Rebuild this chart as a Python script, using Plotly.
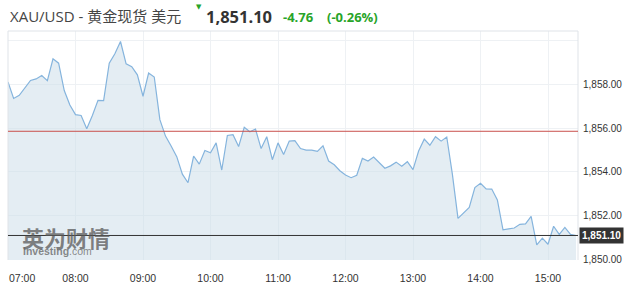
import pandas as pd
import plotly.graph_objects as go

# ---- data (5-minute closes) ----
start_time = "2023-06-16 07:00"
prices = [
    1858.11, 1857.36, 1857.50, 1857.86, 1858.18, 1858.25, 1858.41, 1858.17, 1859.17, 1858.97,
    1857.72, 1857.06, 1856.62, 1856.58, 1855.98, 1856.58, 1857.27, 1857.26, 1858.97, 1859.40,
    1859.96, 1858.94, 1858.81, 1858.44, 1857.46, 1858.52, 1858.34, 1856.39, 1855.64, 1855.19,
    1854.70, 1853.90, 1853.51, 1854.73, 1854.36, 1854.98, 1854.88, 1855.33, 1854.09, 1855.67,
    1855.70, 1855.16, 1856.04, 1855.84, 1855.96, 1855.07, 1855.61, 1854.56, 1855.33, 1854.80,
    1855.41, 1855.43, 1855.07, 1855.00, 1855.00, 1854.94, 1855.20, 1854.50, 1854.33, 1854.06,
    1853.86, 1853.74, 1853.85, 1854.62, 1854.50, 1854.68, 1854.42, 1854.17, 1854.28, 1854.45,
    1854.26, 1854.47, 1854.11, 1854.96, 1855.50, 1855.22, 1855.61, 1855.41, 1855.60, 1853.90,
    1851.88, 1852.12, 1852.38, 1853.29, 1853.48, 1853.23, 1853.22, 1852.72, 1851.36, 1851.40,
    1851.44, 1851.61, 1851.63, 1851.97, 1850.67, 1850.98, 1850.70, 1851.52, 1851.15, 1851.47,
    1851.15, 1851.10,
]
times = pd.date_range(start_time, periods=len(prices), freq="5min")

last_price = 1851.10
change = -4.76
change_pct = -0.26
prev_close = last_price - change

y_ticks = [1850, 1852, 1854, 1856, 1858, 1860]
y_tick_text = ["1,850.00", "1,852.00", "1,854.00", "1,856.00", "1,858.00", ""]
hour_ticks = pd.date_range(start_time, periods=9, freq="1h")
hour_text = [""] + [t.strftime("%H:%M") for t in hour_ticks[1:]]

x_range = [pd.Timestamp(start_time), pd.Timestamp(start_time) + pd.Timedelta(minutes=506.67)]
y_range = [1849.98, 1860.44]

# ---- layout helpers (pixel -> paper) ----
L, R, T, B = 8, 57, 31, 27
W, H = 635, 287
PW, PH = W - L - R, H - T - B

def px(x):
    return (x - L) / PW

def py(y):
    return (H - B - y) / PH

fig = go.Figure()
fig.add_trace(go.Scatter(
    x=times, y=prices, mode="lines",
    line=dict(color="#85b4dd", width=1.2),
    fill="tozeroy", fillcolor="rgba(205,222,234,0.55)",
    hoverinfo="skip",
))

grid = "#eef1f4"
fig.update_layout(
    width=W, height=H,
    margin=dict(l=L, r=R, t=T, b=B),
    paper_bgcolor="white", plot_bgcolor="white",
    showlegend=False,
    font=dict(family="Arial, Liberation Sans, sans-serif", color="#333"),
    xaxis=dict(
        range=x_range, tickvals=list(hour_ticks), ticktext=hour_text,
        showgrid=True, gridcolor=grid, gridwidth=1, zeroline=False,
        ticks="", tickfont=dict(size=10.5, color="#333"), ticklabelstandoff=10,
        showline=False, fixedrange=True, automargin=False,
    ),
    yaxis=dict(
        range=y_range, side="right", tickvals=y_ticks, ticktext=y_tick_text,
        showgrid=True, gridcolor=grid, gridwidth=1, zeroline=False,
        ticks="", tickfont=dict(size=10, color="#333"), ticklabelstandoff=4,
        showline=False, fixedrange=True, automargin=False,
    ),
)

border = "#dfe3e8"
for x0, y0, x1, y1 in [(0, 0, 0, 1), (0, 1, 1, 1), (1, 0, 1, 1)]:
    fig.add_shape(type="line", xref="paper", yref="paper", x0=x0, y0=y0, x1=x1, y1=y1,
                  line=dict(color=border, width=1))

fig.add_shape(type="line", xref="paper", yref="y", x0=0, x1=1, y0=prev_close, y1=prev_close,
              line=dict(color="#c9504c", width=1))
fig.add_shape(type="line", xref="paper", yref="y", x0=0, x1=1, y0=last_price, y1=last_price,
              line=dict(color="#333333", width=1))

green = "#28a428"
cjk = "Open Sans, Noto Sans CJK SC, sans-serif"
ann = []
ann.append(dict(text="XAU/USD - 黄金现货 美元", x=px(8), y=py(16.5), xanchor="left", yanchor="middle",
                font=dict(family=cjk, size=15, color="#454545")))
ann.append(dict(text="▼", x=px(199), y=py(7.5), xanchor="center", yanchor="middle",
                font=dict(family="DejaVu Sans", size=7, color=green)))
ann.append(dict(text=f"<b>{last_price:,.2f}</b>", x=px(204), y=py(16.5), xanchor="left", yanchor="middle",
                font=dict(family=cjk, size=16.5, color="#333")))
ann.append(dict(text=f"<b>{change:.2f}</b>", x=px(281), y=py(17), xanchor="left", yanchor="middle",
                font=dict(family=cjk, size=13, color=green)))
ann.append(dict(text=f"<b>({change_pct:.2f}%)</b>", x=px(325), y=py(17), xanchor="left", yanchor="middle",
                font=dict(family=cjk, size=13, color=green)))
# first hour label (left aligned at the plot edge)
ann.append(dict(text=hour_ticks[0].strftime("%H:%M"), x=px(7), y=py(277.5), xanchor="left", yanchor="middle",
                font=dict(size=10.5, color="#333")))
# watermark
ann.append(dict(text="<b>英为财情</b>", x=px(20), y=py(236.5), xanchor="left", yanchor="middle",
                font=dict(family="Noto Sans CJK SC", size=22, color="rgba(90,90,90,0.75)")))
ann.append(dict(text="<b>Investing</b><span style='font-weight:normal'>.com</span>", x=px(21), y=py(251),
                xanchor="left", yanchor="middle",
                font=dict(family="Arial", size=10.5, color="rgba(100,100,100,0.75)")))
# last price tag
ann.append(dict(text=f"<b>{last_price:,.2f}</b>", x=1, y=last_price, xref="paper", yref="y",
                xanchor="left", yanchor="middle", xshift=1, bgcolor="#333333", borderpad=2,
                font=dict(family="Arial", size=10, color="white")))

for a in ann:
    a.setdefault("xref", "paper")
    a.setdefault("yref", "paper")
    a["showarrow"] = False
    fig.add_annotation(**a)

fig.write_html("out.html")
